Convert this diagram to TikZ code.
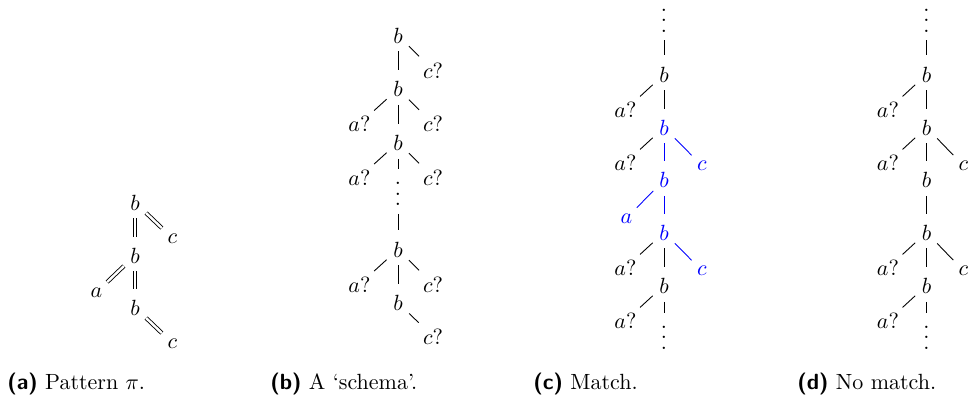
\documentclass[tikz,border=0pt]{standalone}
\begin{document}
\begin{tikzpicture}[x=0.4545pt,y=-0.4545pt,
  lbl/.style={anchor=base,inner sep=0pt},
  dts/.style={anchor=center,inner sep=0pt},
  eq/.style={shorten <=7pt,shorten >=9pt},
  es/.style={shorten <=7pt,shorten >=6.7pt},
  ev/.style={shorten <=7.3pt,shorten >=8.4pt},
  ebd/.style={shorten <=7.5pt,shorten >=11.3pt},
  edb/.style={shorten <=9pt,shorten >=8.8pt},
  dbl/.style={double,double distance=1.1pt},
  hl/.style={blue},
  captext/.style={anchor=base west,inner sep=0pt}]
\newcommand{\mydots}{\vbox{\baselineskip=4.8pt\lineskiplimit=0pt\hbox{.}\hbox{.}\hbox{.}}}
\useasboundingbox (0,0) rectangle (970,403);

% ---------- (a) ----------
\node[lbl] (a1) at (135,210) {$b$};
\node[lbl] (a1c) at (172.5,243) {$c$};
\node[lbl] (a2) at (135,263) {$b$};
\node[lbl] (a2a) at (96.5,297) {$a$};
\node[lbl] (a3) at (135,315) {$b$};
\node[lbl] (a3c) at (172.5,348) {$c$};
\draw[dbl,es] (a1.center) -- (a1c.center);
\draw[dbl,ev] (a1.center) -- (a2.center);
\draw[dbl,es] (a2.center) -- (a2a.center);
\draw[dbl,ev] (a2.center) -- (a3.center);
\draw[dbl,es] (a3.center) -- (a3c.center);

% ---------- (b) ----------
\node[lbl] (b1) at (398,43) {$b$};
\node[lbl] (b1c) at (433,78) {$c?$};
\node[lbl] (b2) at (398,96.5) {$b$};
\node[lbl] (b2a) at (359.5,131.5) {$a?$};
\node[lbl] (b2c) at (433,131.5) {$c?$};
\node[lbl] (b3) at (398,150) {$b$};
\node[lbl] (b3a) at (359.5,185) {$a?$};
\node[lbl] (b3c) at (433,185) {$c?$};
\node[dts] (bd) at (398,194) {\mydots};
\node[lbl] (b4) at (398,257) {$b$};
\node[lbl] (b4a) at (359.5,292) {$a?$};
\node[lbl] (b4c) at (433,292) {$c?$};
\node[lbl] (b5) at (398,310.5) {$b$};
\node[lbl] (b5c) at (433,344) {$c?$};
\draw[eq] (b1.center) -- (b1c.center);
\draw[ev] (b1.center) -- (b2.center);
\draw[eq] (b2.center) -- (b2a.center);
\draw[eq] (b2.center) -- (b2c.center);
\draw[ev] (b2.center) -- (b3.center);
\draw[eq] (b3.center) -- (b3a.center);
\draw[eq] (b3.center) -- (b3c.center);
\draw[ebd] (b3.center) -- (bd.center);
\draw[edb] (bd.center) -- (b4.center);
\draw[eq] (b4.center) -- (b4a.center);
\draw[eq] (b4.center) -- (b4c.center);
\draw[ev] (b4.center) -- (b5.center);
\draw[eq] (b5.center) -- (b5c.center);

% ---------- (c) ----------
\node[dts] (ct) at (664,20.5) {\mydots};
\node[lbl] (c1) at (664,82) {$b$};
\node[lbl] (c1a) at (625.5,117.5) {$a?$};
\node[lbl,hl] (c2) at (664,135) {$b$};
\node[lbl] (c2a) at (625.5,170.5) {$a?$};
\node[lbl,hl] (c2c) at (702,170.5) {$c$};
\node[lbl,hl] (c3) at (664,187.5) {$b$};
\node[lbl,hl] (c3a) at (626.5,223) {$a$};
\node[lbl,hl] (c4) at (664,240) {$b$};
\node[lbl] (c4a) at (625.5,275.5) {$a?$};
\node[lbl,hl] (c4c) at (702,275.5) {$c$};
\node[lbl] (c5) at (664,293) {$b$};
\node[lbl] (c5a) at (625.5,328.5) {$a?$};
\node[dts] (cb) at (664,337.5) {\mydots};
\draw[edb] (ct.center) -- (c1.center);
\draw[eq] (c1.center) -- (c1a.center);
\draw[ev] (c1.center) -- (c2.center);
\draw[eq] (c2.center) -- (c2a.center);
\draw[es,hl] (c2.center) -- (c2c.center);
\draw[ev,hl] (c2.center) -- (c3.center);
\draw[es,hl] (c3.center) -- (c3a.center);
\draw[ev,hl] (c3.center) -- (c4.center);
\draw[eq] (c4.center) -- (c4a.center);
\draw[es,hl] (c4.center) -- (c4c.center);
\draw[ev] (c4.center) -- (c5.center);
\draw[eq] (c5.center) -- (c5a.center);
\draw[ebd] (c5.center) -- (cb.center);

% ---------- (d) ----------
\node[dts] (dt) at (926.5,20.5) {\mydots};
\node[lbl] (d1) at (926.5,82) {$b$};
\node[lbl] (d1a) at (888,117.5) {$a?$};
\node[lbl] (d2) at (926.5,135) {$b$};
\node[lbl] (d2a) at (888,170.5) {$a?$};
\node[lbl] (d2c) at (963.5,170.5) {$c$};
\node[lbl] (d3) at (926.5,187.5) {$b$};
\node[lbl] (d4) at (926.5,240) {$b$};
\node[lbl] (d4a) at (888,275.5) {$a?$};
\node[lbl] (d4c) at (963.5,275.5) {$c$};
\node[lbl] (d5) at (926.5,293) {$b$};
\node[lbl] (d5a) at (888,328.5) {$a?$};
\node[dts] (db) at (926.5,337.5) {\mydots};
\draw[edb] (dt.center) -- (d1.center);
\draw[eq] (d1.center) -- (d1a.center);
\draw[ev] (d1.center) -- (d2.center);
\draw[eq] (d2.center) -- (d2a.center);
\draw[es] (d2.center) -- (d2c.center);
\draw[ev] (d2.center) -- (d3.center);
\draw[ev] (d3.center) -- (d4.center);
\draw[eq] (d4.center) -- (d4a.center);
\draw[es] (d4.center) -- (d4c.center);
\draw[ev] (d4.center) -- (d5.center);
\draw[eq] (d5.center) -- (d5a.center);
\draw[ebd] (d5.center) -- (db.center);

% ---------- captions ----------
\node[captext] (capa) at (7,389) {{\sffamily\bfseries (a)} Pattern $\pi$.};
\node[captext] (capb) at (270,389) {{\sffamily\bfseries (b)} A `schema'.};
\node[captext] (capc) at (533,389) {{\sffamily\bfseries (c)} Match.};
\node[captext] (capd) at (797,389) {{\sffamily\bfseries (d)} No match.};
\end{tikzpicture}
\end{document}
